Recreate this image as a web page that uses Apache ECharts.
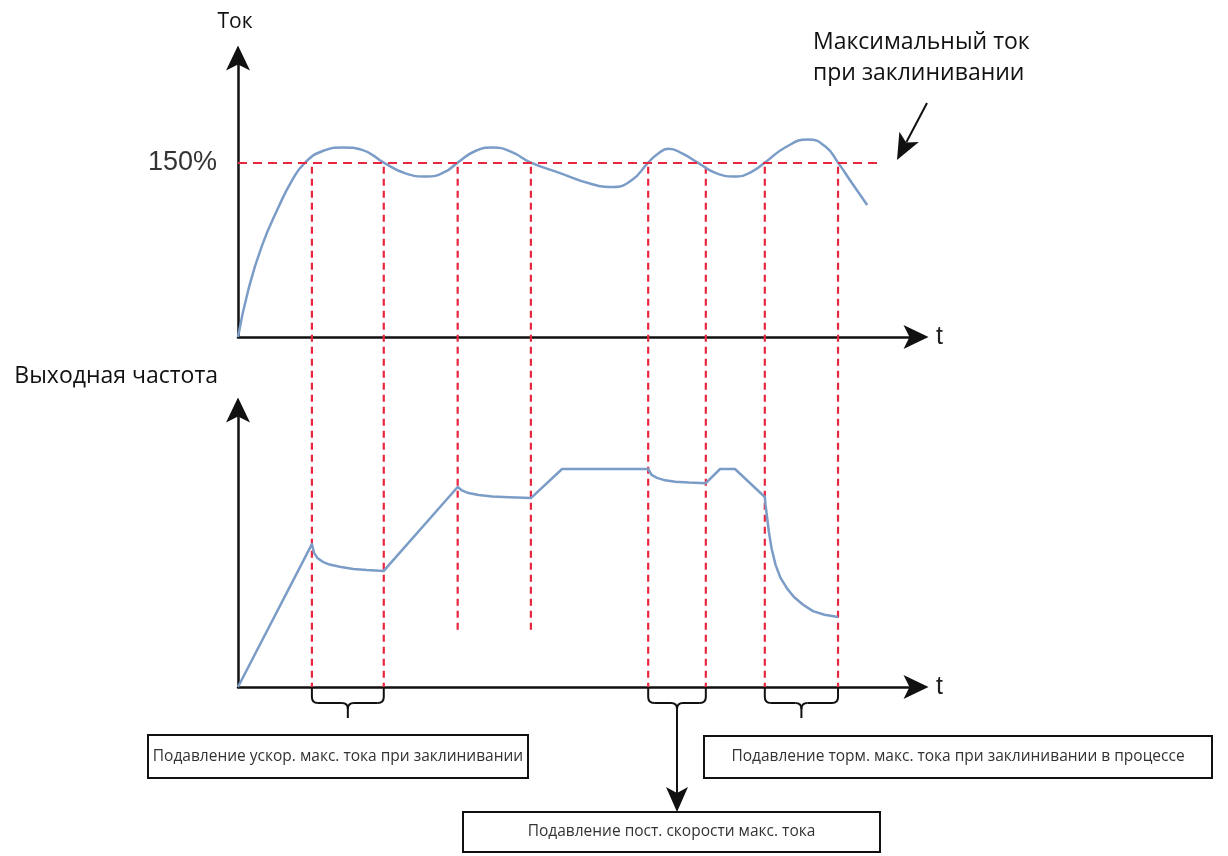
<!DOCTYPE html>
<html>
<head>
<meta charset="utf-8">
<script src="https://cdn.jsdelivr.net/npm/echarts@6/dist/echarts.min.js"></script>
<style>
  html, body { margin: 0; padding: 0; background: #fff; }
  #chart { width: 1228px; height: 856px; }
</style>
</head>
<body>
<div id="chart"></div>
<script>
// Time runs 0..100 (arbitrary units) on both plots.
// Motor current, % of rated
const currentTime  = [0, 1.5, 3.5, 6.0, 8.0, 9.9, 12.5, 15.5, 18.3, 21.5, 24.6, 27.9, 30.5, 32.4, 35.0, 37.6, 40.4, 43.2, 47.5, 51.9, 55.3, 58.1, 60.5, 61.8, 63.5, 65.5, 67.8, 70.5, 73.6, 76.0, 77.7, 80.7, 84.1, 86.6, 88.5, 90.6, 92.8];
const currentValue = [0, 40, 78, 112, 135, 150, 160, 163, 161, 150, 141, 138, 142, 150, 160, 163, 159, 150, 141, 132, 129, 135, 150, 157, 162, 158, 150, 141, 138, 143, 150, 163, 170, 164, 150, 132, 113.5];

// Output frequency, % of maximum
const freqTime  = [0, 10.9, 11.2, 11.7, 12.5, 13.5, 15.0, 17.0, 19.0, 21.5, 32.4, 33.0, 34.0, 35.5, 37.5, 40.0, 43.2, 47.8, 60.5, 61.0, 61.8, 63.0, 64.5, 66.5, 69.0, 71.1, 73.3, 77.7, 77.8, 78.0, 78.3, 78.7, 79.3, 80.0, 81.0, 82.0, 83.3, 84.8, 86.5, 88.5];
const freqValue = [0, 51.6, 48.5, 46.6, 45.2, 44.2, 43.4, 42.6, 42.2, 41.9, 72.2, 71.0, 70.0, 69.3, 68.8, 68.5, 68.2, 78.7, 78.7, 76.6, 75.5, 74.6, 74.1, 73.8, 73.6, 78.7, 78.7, 68.6, 66.0, 62.0, 56.0, 50.0, 44.0, 39.5, 35.5, 32.5, 29.8, 27.4, 26.1, 25.3];

// Stall-current limit and the moments marked by the guides
const stallLimit   = 150;
const limitEndTime = 94.7;
const eventTimes   = [10.9, 21.5, 32.4, 43.2, 60.5, 69.0, 77.7, 88.5];
const eventFloor   = [0, 0, 20, 20, 0, 0, 0, 0];   // where each guide ends on the frequency plot
const braces       = [[0, 1], [4, 5], [6, 7]];     // event pairs grouped under the time axis
const currentTicks = [stallLimit];

const texts = {
  current: 'Ток',
  frequency: 'Выходная частота',
  time: 't',
  limitNote: 'Максимальный ток\nпри заклинивании',
  accel: 'Подавление ускор. макс. тока при заклинивании',
  decel: 'Подавление торм. макс. тока при заклинивании в процессе',
  steady: 'Подавление пост. скорости макс. тока'
};

const BLUE = '#7b9cc7';
const RED = '#e8263f';
const INK = '#111';
const FONT = '"Open Sans", "Noto Sans", sans-serif';
const ARROW = 'path://M12,0 L24,25 L12,19 L0,25 Z';

const zip = (a, b) => a.map((v, i) => [v, b[i]]);

const axisLine = {
  show: true,
  onZero: false,
  symbol: ['none', ARROW],
  symbolSize: [24, 25],
  lineStyle: { color: INK, width: 2.5 }
};

const xAxisBase = {
  type: 'value', min: 0, max: 100,
  axisLine: axisLine,
  axisTick: { show: false }, axisLabel: { show: false }, splitLine: { show: false },
  name: texts.time, nameLocation: 'end', nameGap: 20,
  nameTextStyle: { fontSize: 25, color: '#222', fontFamily: '"Liberation Sans", Arial, sans-serif', verticalAlign: 'middle' }
};

const chart = echarts.init(document.getElementById('chart'), null, { renderer: 'canvas' });

const option = {
  backgroundColor: '#fff',
  animation: false,
  grid: [
    { left: 238, right: 312, top: 58, bottom: 519 },
    { left: 238, right: 312, top: 410, bottom: 169 }
  ],
  xAxis: [
    Object.assign({ gridIndex: 0 }, xAxisBase),
    Object.assign({ gridIndex: 1 }, xAxisBase)
  ],
  yAxis: [
    {
      gridIndex: 0, type: 'value', min: 0, max: 240,
      axisLine: axisLine, axisTick: { show: false }, splitLine: { show: false },
      axisLabel: {
        show: true, customValues: currentTicks, formatter: '{value}%',
        fontSize: 27, color: '#333', margin: 21, fontFamily: '"Liberation Sans", Arial, sans-serif'
      },
      name: texts.current, nameLocation: 'end', nameGap: 25,
      nameTextStyle: { fontSize: 21, color: '#111', fontFamily: FONT, padding: [0, 6, 0, 0] }
    },
    {
      gridIndex: 1, type: 'value', min: 0, max: 100,
      axisLine: axisLine, axisTick: { show: false }, axisLabel: { show: false }, splitLine: { show: false },
      name: texts.frequency, nameLocation: 'end', nameGap: 22,
      nameTextStyle: { fontSize: 23, color: '#111', fontFamily: FONT, align: 'right', padding: [0, 20, 0, 0] }
    }
  ],
  series: [
    {
      type: 'line', xAxisIndex: 0, yAxisIndex: 0,
      data: zip(currentTime, currentValue),
      smooth: 0.5, symbol: 'none', z: 4,
      lineStyle: { color: BLUE, width: 2.5 },
      markLine: {
        silent: true, symbol: 'none', label: { show: false },
        lineStyle: { color: RED, width: 2.2, type: [9, 6] },
        data: [[{ coord: [0, stallLimit] }, { coord: [limitEndTime, stallLimit] }]]
      }
    },
    {
      type: 'line', xAxisIndex: 1, yAxisIndex: 1,
      data: zip(freqTime, freqValue),
      smooth: false, symbol: 'none', z: 4,
      lineStyle: { color: BLUE, width: 2.5, join: 'round' }
    }
  ]
};

chart.setOption(option);

// Overlay: guides crossing both plots, braces, call-out boxes and arrows.
const toPx = (grid, pt) => chart.convertToPixel({ gridIndex: grid }, pt);
const stroke = { stroke: INK, lineWidth: 2, fill: null };

function arrowHead(tipX, tipY, angle, w, h) {
  const c = Math.cos(angle), s = Math.sin(angle);
  const pts = [[0, 0], [-h, -w / 2], [-h * 0.76, 0], [-h, w / 2]];
  return {
    type: 'polygon', z: 20,
    shape: { points: pts.map(p => [tipX + p[0] * c - p[1] * s, tipY + p[0] * s + p[1] * c]) },
    style: { fill: INK }
  };
}

function seg(x1, y1, x2, y2) {
  return { type: 'line', z: 10, shape: { x1, y1, x2, y2 }, style: stroke };
}
function curve(x1, y1, cpx1, cpy1, x2, y2) {
  return { type: 'bezierCurve', z: 10, shape: { x1, y1, cpx1, cpy1, x2, y2 }, style: stroke };
}

function box(x, y, w, h, label) {
  return [
    { type: 'rect', z: 15, shape: { x: x, y: y, width: w, height: h }, style: { fill: '#fff', stroke: INK, lineWidth: 2 } },
    { type: 'text', z: 16, x: x + w / 2, y: y + h / 2,
      style: { text: label, fill: '#333', font: '15.5px ' + FONT, align: 'center', verticalAlign: 'middle' } }
  ];
}

const graphics = [];

eventTimes.forEach((t, i) => {
  const a = toPx(0, [t, stallLimit]);
  const b = toPx(1, [t, eventFloor[i]]);
  graphics.push({
    type: 'line', z: 3, silent: true,
    shape: { x1: a[0], y1: a[1] + 4, x2: b[0], y2: b[1] },
    style: { stroke: RED, lineWidth: 2.2, lineDash: [7, 5] }
  });
});

const braceTips = braces.map(([i, j]) => {
  const p = toPx(1, [eventTimes[i], 0]);
  const q = toPx(1, [eventTimes[j], 0]);
  const x1 = p[0], x2 = q[0], y0 = p[1] + 1, ym = y0 + 15, yt = y0 + 30, cx = (x1 + x2) / 2, r = 6;
  graphics.push(
    seg(x1, y0, x1, ym - r),
    curve(x1, ym - r, x1, ym, x1 + r, ym),
    seg(x1 + r, ym, cx - r, ym),
    curve(cx - r, ym, cx, ym, cx, ym + r),
    curve(cx + r, ym, cx, ym, cx, ym + r),
    seg(cx, ym + r, cx, yt),
    seg(cx + r, ym, x2 - r, ym),
    curve(x2 - r, ym, x2, ym, x2, ym - r),
    seg(x2, ym - r, x2, y0)
  );
  return [cx, yt];
});

// call-out boxes
graphics.push(...box(148, 735, 380, 43, texts.accel));
graphics.push(...box(704, 736, 508, 42, texts.decel));
graphics.push(...box(463, 812, 417, 40, texts.steady));

// arrow from the steady-speed brace down to its box
const st = braceTips[1];
graphics.push(seg(st[0], st[1], st[0], 795));
graphics.push(arrowHead(st[0], 812, Math.PI / 2, 22, 25));

// stall-current note and its pointer
graphics.push({
  type: 'text', z: 16, x: 813, y: 27,
  style: { text: texts.limitNote, fill: '#111', font: '23px ' + FONT, lineHeight: 31, align: 'left', verticalAlign: 'top' }
});
const ang = Math.atan2(160 - 103, 897 - 927);
graphics.push(seg(927, 103, 897 - Math.cos(ang) * 20, 160 - Math.sin(ang) * 20));
graphics.push(arrowHead(897, 160, ang, 22, 26));

chart.setOption({ graphic: graphics });
</script>
</body>
</html>
